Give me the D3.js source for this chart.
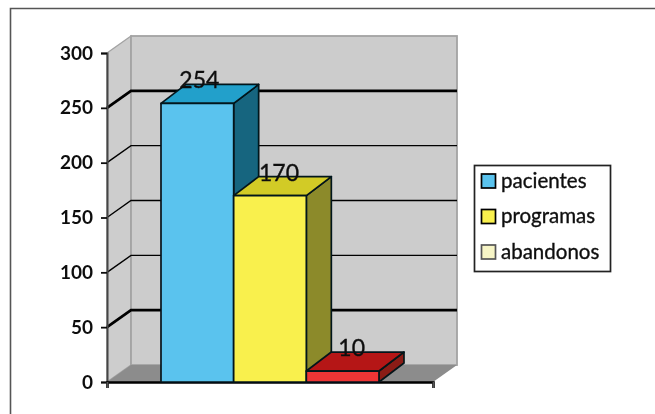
<!DOCTYPE html>
<html>
<head>
<meta charset="utf-8">
<script src="https://cdn.jsdelivr.net/npm/d3@7"></script>
<style>
html, body { margin: 0; padding: 0; background: #fff; }
text { font-family: Lato, "Open Sans", sans-serif; fill: #111; }
</style>
</head>
<body>
<svg id="chart" width="655" height="414"></svg>
<script>
// chart data
var series = ["pacientes", "programas", "abandonos"];
var values = [254, 170, 10];
var yTicks = [0, 50, 100, 150, 200, 250, 300];
var heavyTicks = [50, 250];
var barFront = ["#5ac3ee", "#f9f04e", "#ee3535"];
var barTop = ["#21a0cb", "#d2cb26", "#b51818"];
var barSide = ["#14657f", "#8c8a2b", "#8a1d18"];
var legendFill = ["#5ac3ee", "#f9f04e", "#f7f5c6"];

var width = 655, height = 414;
var svg = d3.select("#chart");

// slight blur, the original is a scaled-up screenshot
svg.append("defs").append("filter").attr("id", "soft")
	.append("feGaussianBlur").attr("stdDeviation", 0.55);

var root = svg.append("g").attr("filter", "url(#soft)");

// outer frame runs off the right and the bottom
root.append("path")
	.attr("d", "M10.5," + height + "V8.5H" + width)
	.attr("fill", "none").attr("stroke", "#555").attr("stroke-width", 1.6);

var y = d3.scaleLinear().domain([0, 300]).range([382, 53]);
var xFloor = d3.scaleLinear().domain([0, 1]).range([107, 433]);
var x = d3.scaleBand().domain(series).range([161, 379]);

var wallDx = 24, wallDy = -17;
var barDx = 25, barDy = -19;

var left = xFloor(0), right = xFloor(1);

function poly(pts) { return "M" + pts.map(function(p) { return p.join(","); }).join("L") + "Z"; }

// walls and floor
root.append("path")
	.attr("d", poly([[left, y(300)], [left + wallDx, y(300) + wallDy], [left + wallDx, y(0) + wallDy], [left, y(0)]]))
	.attr("fill", "#cdcdcd").attr("stroke", "#a3a3a3").attr("stroke-width", 1.4);
root.append("rect")
	.attr("x", left + wallDx).attr("y", y(300) + wallDy)
	.attr("width", right - left).attr("height", y(0) - y(300))
	.attr("fill", "#cccccc").attr("stroke", "#a3a3a3").attr("stroke-width", 1.8);
root.append("path")
	.attr("d", poly([[left, y(0)], [left + wallDx, y(0) + wallDy], [right + wallDx, y(0) + wallDy], [right, y(0)]]))
	.attr("fill", "#8c8c8c");

// gridlines, side wall + back wall
root.append("g").selectAll("path")
	.data(yTicks.filter(function(d) { return d > 0 && d < 300; }))
	.enter().append("path")
	.attr("d", function(d) {
		return "M" + left + "," + y(d) + "L" + (left + wallDx) + "," + (y(d) + wallDy) + "H" + (right + wallDx);
	})
	.attr("fill", "none")
	.attr("stroke", "#000")
	.attr("stroke-width", function(d) { return heavyTicks.indexOf(d) >= 0 ? 2.8 : 1.4; });

// axes
var yAxis = root.append("g").attr("transform", "translate(" + left + ",0)")
	.call(d3.axisLeft(y).tickValues(yTicks).tickSize(6).tickPadding(8));
yAxis.select(".domain").attr("stroke", "#444").attr("stroke-width", 2);
yAxis.selectAll("line").attr("stroke", "#111").attr("stroke-width", 1.8);
yAxis.selectAll("text").attr("font-size", 19).attr("font-weight", 700)
	.style("font-family", "Lato, sans-serif").attr("fill", "#111");

var xAxis = root.append("g").attr("transform", "translate(0," + y(0) + ")")
	.call(d3.axisBottom(xFloor).tickValues([0, 1]).tickSize(6).tickFormat(""));
xAxis.select(".domain").attr("stroke", "#000").attr("stroke-width", 2.6);
xAxis.selectAll("line").attr("stroke", "#555").attr("stroke-width", 1.8);

// bars
var bars = root.append("g").selectAll("g")
	.data(series.map(function(s, i) { return { name: s, value: values[i], i: i }; }))
	.enter().append("g")
	.attr("stroke", "#06141a").attr("stroke-width", 1.7).attr("stroke-linejoin", "round");

bars.append("path")
	.attr("d", function(d) {
		var x1 = x(d.name) + x.bandwidth(), t = y(d.value);
		return poly([[x1, t], [x1 + barDx, t + barDy], [x1 + barDx, y(0) + barDy], [x1, y(0)]]);
	})
	.attr("fill", function(d) { return barSide[d.i]; });
bars.append("path")
	.attr("d", function(d) {
		var x0 = x(d.name), x1 = x0 + x.bandwidth(), t = y(d.value);
		return poly([[x0, t], [x0 + barDx, t + barDy], [x1 + barDx, t + barDy], [x1, t]]);
	})
	.attr("fill", function(d) { return barTop[d.i]; });
bars.append("rect")
	.attr("x", function(d) { return x(d.name); })
	.attr("y", function(d) { return y(d.value); })
	.attr("width", x.bandwidth())
	.attr("height", function(d) { return y(0) - y(d.value); })
	.attr("fill", function(d) { return barFront[d.i]; });

// value labels, the first one sits closer to its bar centre
root.append("g").selectAll("text")
	.data(values)
	.enter().append("text")
	.attr("x", function(d, i) { return x(series[i]) + x.bandwidth() / 2 + (i == 0 ? 2 : 9); })
	.attr("y", function(d) { return y(d) - 15; })
	.attr("text-anchor", "middle")
	.attr("font-size", 23)
	.attr("stroke", "#111").attr("stroke-width", 0.35)
	.text(function(d) { return d; });

// legend
root.append("rect")
	.attr("x", 474.5).attr("y", 165.5).attr("width", 136).attr("height", 106)
	.attr("fill", "#fff").attr("stroke", "#222").attr("stroke-width", 1.7);
var legend = root.append("g").selectAll("g")
	.data(series)
	.enter().append("g")
	.attr("transform", function(d, i) { return "translate(0," + (181 + i * 35.5) + ")"; });
legend.append("rect")
	.attr("x", 481.5).attr("y", -7).attr("width", 14).attr("height", 14)
	.attr("fill", function(d, i) { return legendFill[i]; })
	.attr("stroke", function(d, i) { return i == 2 ? "#555" : "#000"; })
	.attr("stroke-width", 1.7);
legend.append("text")
	.attr("x", 501).attr("y", 6.5)
	.attr("font-size", 20.5)
	.attr("stroke", "#111").attr("stroke-width", 0.35)
	.text(function(d) { return d; });
</script>
</body>
</html>
